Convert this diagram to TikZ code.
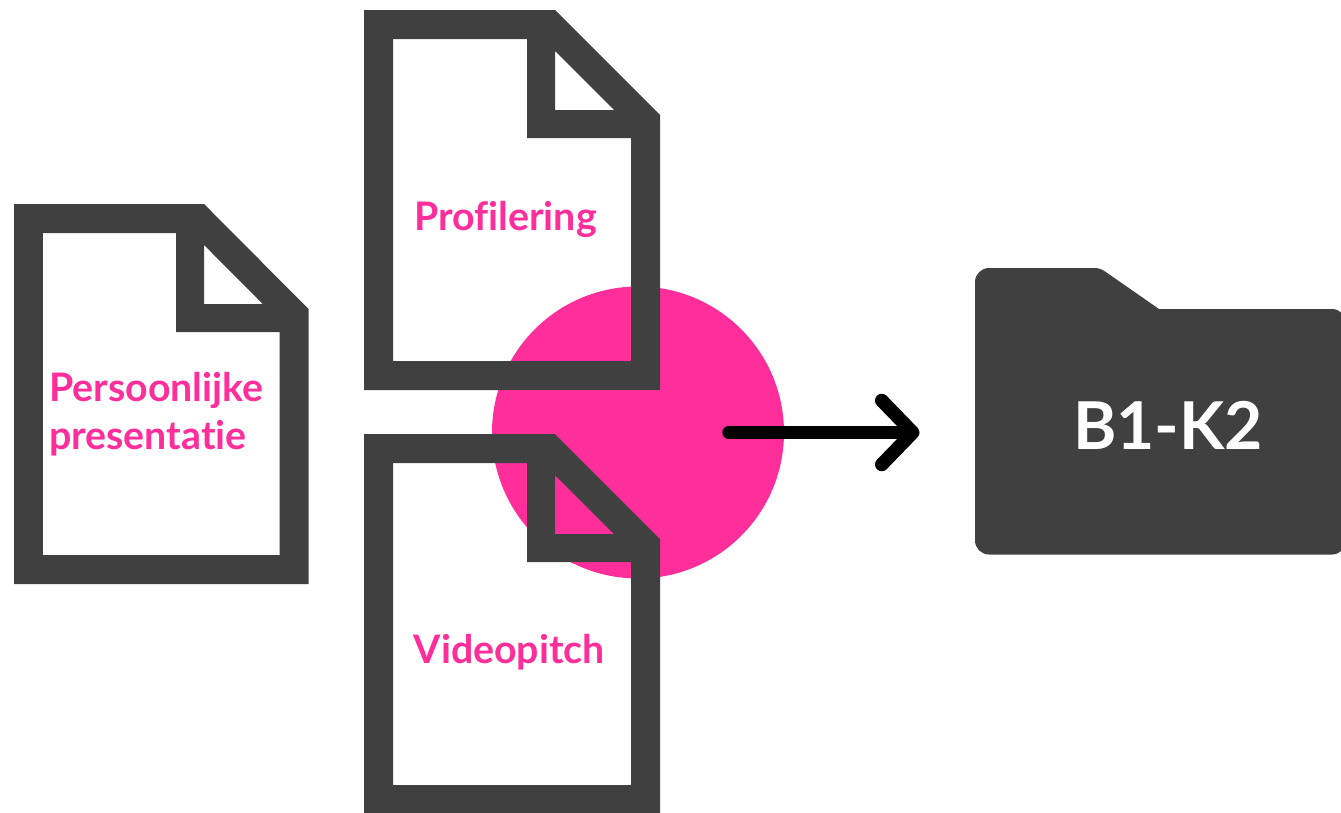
\documentclass[tikz,border=0pt]{standalone}
\usepackage{fontspec}
\setmainfont{Lato}[Ligatures=NoCommon]
\usetikzlibrary{arrows.meta}
\definecolor{docgray}{HTML}{404040}
\definecolor{hotpink}{HTML}{FF2E9B}
\tikzset{
  docfile/.pic={
    \fill[docgray,even odd rule] (0,0) -- (191,0) -- (296,105) -- (296,380) -- (0,380) -- cycle
      (29,29) -- (163,29) -- (163,128) -- (267,128) -- (267,351) -- (29,351) -- cycle
      (191,41) -- (191,100) -- (250,100) -- cycle;
  },
  doclabel/.style={text=hotpink,font=\fontsize{39.3}{48}\selectfont\bfseries,inner sep=0pt,align=left},
}

\begin{document}
\begin{tikzpicture}[x=1pt,y=-1pt]
\useasboundingbox (0,0) rectangle (1341,812);
\node[circle,fill=hotpink,minimum size=292pt,inner sep=0pt] (hub) at (638,432.5) {};
\pic[xscale=0.995] at (14,204) {docfile};
\pic at (364,10) {docfile};
\pic at (364,434) {docfile};
\node[doclabel,anchor=west] (persoonlijk) at (49,414) {Persoonlijke\\presentatie};
\node[doclabel,anchor=west] (profilering) at (414,219) {Profilering};
\node[doclabel,anchor=west] (videopitch) at (413.5,652) {Videopitch};
% folder
\fill[docgray,rounded corners=14pt] (975,268) [rounded corners=5pt] -- (1100,268) [sharp corners] -- (1159,309) [rounded corners=14pt] -- (1346,309) -- (1346,554.5) -- (975,554.5) -- cycle;
\node[text=white,font=\fontsize{66}{70}\selectfont\bfseries,inner sep=0pt] (map) at (1168,425) {B1-K2};
% arrow
\coordinate (arrowstart) at (729,432.5);
\coordinate (arrowtip) at (919.5,432.5);
\draw[line width=13.5pt,line cap=round,line join=round,-{Straight Barb[round,length=31pt,width=64pt]}] (arrowstart) -- (arrowtip);
\end{tikzpicture}
\end{document}
